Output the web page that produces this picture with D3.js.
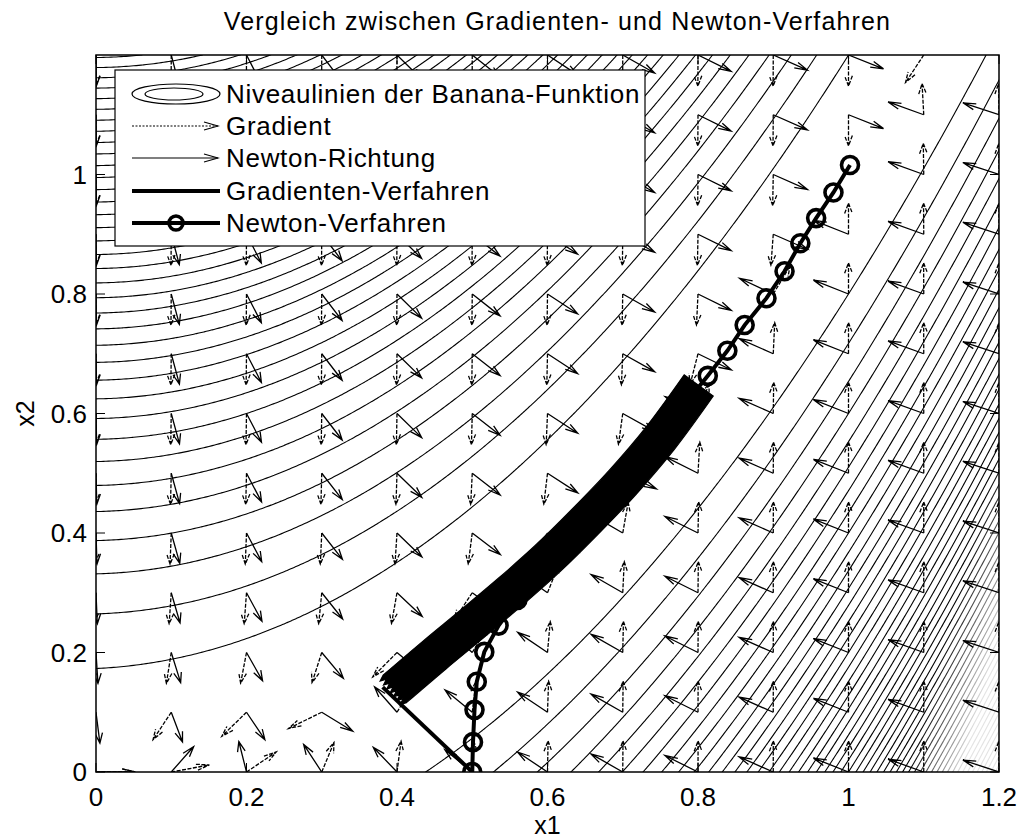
<!DOCTYPE html>
<html>
<head>
<meta charset="utf-8">
<script src="https://cdn.jsdelivr.net/npm/d3@7"></script>
<style>
  body { margin: 0; background: #fff; }
  text { font-family: "Liberation Sans", Arial, Helvetica, sans-serif; fill: #000; }
</style>
</head>
<body>
<svg id="chart" width="1023" height="839"></svg>
<script>
// ---- axis ticks ----
const xTicks = [0, 0.2, 0.4, 0.6, 0.8, 1, 1.2];
const yTicks = [0, 0.2, 0.4, 0.6, 0.8, 1];

// ---- contour levels of the banana function ----
const contourLevels = [4, 8, 12, 16, 20, 24, 28, 32, 36, 40, 44, 48, 52, 56, 60, 64, 68, 72, 76, 80,
  84, 88, 92, 96, 100, 104, 108, 112, 116, 120, 124, 128, 132, 136, 140, 144, 148, 152, 156, 160,
  164, 168, 172, 176, 180, 184, 188, 192, 196, 200, 204, 208];

// ---- quiver grid ----
const gridX1 = [0, 0.1, 0.2, 0.3, 0.4, 0.5, 0.6, 0.7, 0.8, 0.9, 1.0, 1.1, 1.2];
const gridX2 = [0, 0.1, 0.2, 0.3, 0.4, 0.5, 0.6, 0.7, 0.8, 0.9, 1.0, 1.1, 1.2];

// ---- Newton iterates ----
const newtonX1 = [0.500, 0.501, 0.503, 0.506, 0.516, 0.535, 0.560, 0.588, 0.617, 0.646, 0.675, 0.703,
  0.731, 0.758, 0.786, 0.813, 0.839, 0.862, 0.891, 0.915, 0.936, 0.957, 0.980, 1.002];
const newtonX2 = [0.000, 0.050, 0.104, 0.151, 0.201, 0.245, 0.288, 0.330, 0.373, 0.415, 0.456, 0.497,
  0.538, 0.579, 0.621, 0.663, 0.705, 0.748, 0.793, 0.838, 0.885, 0.927, 0.970, 1.016];

// ---- gradient method: first step, then the dense zig-zag along the valley ----
const gradStepX1 = [0.500, 0.381];
const gradStepX2 = [0.000, 0.142];
const bandCenterX1 = [0.397, 0.450, 0.500, 0.550, 0.600, 0.650, 0.700, 0.750, 0.801];
const bandCenterX2 = [0.139, 0.196, 0.248, 0.301, 0.357, 0.419, 0.485, 0.559, 0.647];
const bandWidthPx = 36;

const titleText = "Vergleich zwischen Gradienten- und Newton-Verfahren";
const legendLabels = ["Niveaulinien der Banana-Funktion", "Gradient", "Newton-Richtung",
  "Gradienten-Verfahren", "Newton-Verfahren"];

// ---- banana (Rosenbrock) function, its gradient and Hessian ----
const banana = (a, b) => 100 * (b - a * a) ** 2 + (1 - a) ** 2;
const bananaGrad = (a, b) => [-400 * a * (b - a * a) - 2 * (1 - a), 200 * (b - a * a)];
const bananaHess = (a, b) => [[1200 * a * a - 400 * b + 2, -400 * a], [-400 * a, 200]];

// ---- layout ----
const plot = { left: 96, right: 999, top: 55, bottom: 772 };
const svg = d3.select("#chart");

const x = d3.scaleLinear().domain([0, 1.2]).range([plot.left, plot.right]);
const y = d3.scaleLinear().domain([0, 1.2]).range([plot.bottom, plot.top]);

const defs = svg.append("defs");
defs.append("clipPath").attr("id", "plotClip")
  .append("rect").attr("x", plot.left).attr("y", plot.top)
  .attr("width", plot.right - plot.left).attr("height", plot.bottom - plot.top);

// the very dense level lines in the lower right corner print only faintly
const fade = defs.append("linearGradient").attr("id", "denseFade")
  .attr("gradientUnits", "userSpaceOnUse")
  .attr("x1", 942).attr("y1", 650).attr("x2", 992).attr("y2", 664);
fade.append("stop").attr("offset", 0).attr("stop-color", "#fff");
fade.append("stop").attr("offset", 1).attr("stop-color", "#1c1c1c");
defs.append("mask").attr("id", "contourMask").attr("maskUnits", "userSpaceOnUse")
  .attr("x", 0).attr("y", 0).attr("width", 1023).attr("height", 839)
  .append("rect").attr("x", 0).attr("y", 0).attr("width", 1023).attr("height", 839)
  .attr("fill", "url(#denseFade)");

const gPlot = svg.append("g").attr("clip-path", "url(#plotClip)");

// ---- contour lines ----
const N = 361;
const step = 1.2 / (N - 1);
const values = new Float64Array(N * N);
for (let j = 0; j < N; j++) {
  for (let i = 0; i < N; i++) values[j * N + i] = banana(i * step, j * step);
}
const contourGen = d3.contours().size([N, N]).thresholds(contourLevels);
const contourPath = d3.geoPath(d3.geoTransform({
  point: function (px, py) { this.stream.point(x((px - 0.5) * step), y((py - 0.5) * step)); }
}));
gPlot.append("g").attr("mask", "url(#contourMask)").selectAll("path")
  .data(contourGen(values))
  .join("path")
  .attr("d", contourPath)
  .attr("fill", "none")
  .attr("stroke", "#000")
  .attr("stroke-width", 1.1);

// ---- quiver arrows (MATLAB-like heads) ----
const arrowLen = 0.052, alpha = 0.33, beta = 0.3;
function arrowPath(a, b, u, v) {
  const tx = a + u, ty = b + v;
  const h1 = [tx - alpha * (u + beta * v), ty - alpha * (v - beta * u)];
  const h2 = [tx - alpha * (u - beta * v), ty - alpha * (v + beta * u)];
  return `M${x(a)},${y(b)}L${x(tx)},${y(ty)}M${x(h1[0])},${y(h1[1])}L${x(tx)},${y(ty)}L${x(h2[0])},${y(h2[1])}`;
}
const gradArrows = [], newtonArrows = [];
gridX2.forEach(b => gridX1.forEach(a => {
  const g = bananaGrad(a, b);
  const gn = Math.hypot(g[0], g[1]);
  if (gn < 1e-9) return;
  gradArrows.push(arrowPath(a, b, -g[0] / gn * arrowLen, -g[1] / gn * arrowLen));
  const Hs = bananaHess(a, b);
  const det = Hs[0][0] * Hs[1][1] - Hs[0][1] * Hs[1][0];
  const d0 = -(Hs[1][1] * g[0] - Hs[0][1] * g[1]) / det;
  const d1 = -(-Hs[1][0] * g[0] + Hs[0][0] * g[1]) / det;
  const dn = Math.hypot(d0, d1);
  newtonArrows.push(arrowPath(a, b, d0 / dn * arrowLen, d1 / dn * arrowLen));
}));
gPlot.append("g").selectAll("path").data(gradArrows).join("path")
  .attr("d", d => d).attr("fill", "none").attr("stroke", "#000").attr("stroke-width", 1.3);
gPlot.append("g").selectAll("path").data(newtonArrows).join("path")
  .attr("d", d => d).attr("fill", "none").attr("stroke", "#000").attr("stroke-width", 1.3)
  .attr("stroke-dasharray", "4,1.5");

// ---- Newton path ----
const newtonPts = newtonX1.map((a, i) => [a, newtonX2[i]]);
const lineGen = d3.line().x(d => x(d[0])).y(d => y(d[1]));
gPlot.append("path").datum(newtonPts).attr("d", lineGen)
  .attr("fill", "none").attr("stroke", "#000").attr("stroke-width", 4);
gPlot.append("g").selectAll("circle").data(newtonPts).join("circle")
  .attr("cx", d => x(d[0])).attr("cy", d => y(d[1])).attr("r", 8.5)
  .attr("fill", "none").attr("stroke", "#000").attr("stroke-width", 3.6);

// ---- gradient path ----
const gradStep = gradStepX1.map((a, i) => [a, gradStepX2[i]]);
gPlot.append("path").datum(gradStep).attr("d", lineGen)
  .attr("fill", "none").attr("stroke", "#000").attr("stroke-width", 4);

// the zig-zag iterates fill a band around the centre line; its edges are the turning points
const cpx = bandCenterX1.map((a, i) => [x(a), y(bandCenterX2[i])]);
const hw = bandWidthPx / 2;
const normals = cpx.map((p, i) => {
  const a = cpx[Math.max(0, i - 1)], b = cpx[Math.min(cpx.length - 1, i + 1)];
  const dx = b[0] - a[0], dy = b[1] - a[1], len = Math.hypot(dx, dy);
  return { t: [dx / len, dy / len], n: [dy / len, -dx / len] };
});
const upperEdge = cpx.map((p, i) => [p[0] + normals[i].n[0] * hw, p[1] + normals[i].n[1] * hw]);
const lowerEdge = cpx.map((p, i) => [p[0] - normals[i].n[0] * hw, p[1] - normals[i].n[1] * hw]);
const edgeLine = d3.line().curve(d3.curveCatmullRom.alpha(0.5));
// jagged start: the first turning points stick out beyond the band
const t0 = normals[0].t, L0 = lowerEdge[0], U0 = upperEdge[0];
const teeth = [];
const nTeeth = 7;
for (let k = 1; k < 2 * nTeeth; k++) {
  const f = k / (2 * nTeeth);
  const out = (k % 2 === 1) ? 6 : 0;
  teeth.push([L0[0] + (U0[0] - L0[0]) * f - t0[0] * out, L0[1] + (U0[1] - L0[1]) * f - t0[1] * out]);
}
const bandD = edgeLine(upperEdge) + "L" + edgeLine(lowerEdge.slice().reverse()).slice(1) +
  teeth.map(p => `L${p[0]},${p[1]}`).join("") + "Z";
gPlot.append("path").attr("d", bandD)
  .attr("fill", "#000").attr("stroke", "#000").attr("stroke-width", 1.2);

// ---- axes frame and ticks ----
const frame = svg.append("g");
frame.append("rect").attr("x", plot.left).attr("y", plot.top)
  .attr("width", plot.right - plot.left).attr("height", plot.bottom - plot.top)
  .attr("fill", "none").attr("stroke", "#000").attr("stroke-width", 1.5);
const tickLen = 9;
xTicks.forEach(t => {
  frame.append("line").attr("x1", x(t)).attr("x2", x(t)).attr("y1", plot.bottom).attr("y2", plot.bottom - tickLen).attr("stroke", "#000");
  frame.append("line").attr("x1", x(t)).attr("x2", x(t)).attr("y1", plot.top).attr("y2", plot.top + tickLen).attr("stroke", "#000");
  frame.append("text").attr("x", x(t)).attr("y", 806).attr("text-anchor", "middle")
    .style("font-size", "26px").text(d3.format("~g")(t));
});
yTicks.forEach(t => {
  frame.append("line").attr("x1", plot.left).attr("x2", plot.left + tickLen).attr("y1", y(t)).attr("y2", y(t)).attr("stroke", "#000");
  frame.append("line").attr("x1", plot.right).attr("x2", plot.right - tickLen).attr("y1", y(t)).attr("y2", y(t)).attr("stroke", "#000");
  frame.append("text").attr("x", 87).attr("y", y(t) + 9).attr("text-anchor", "end")
    .style("font-size", "26px").text(d3.format("~g")(t));
});

// ---- labels ----
svg.append("text").attr("x", (plot.left + plot.right) / 2 + 10).attr("y", 30).attr("text-anchor", "middle")
  .style("font-size", "25px").style("letter-spacing", "1.15px").text(titleText);
svg.append("text").attr("x", (plot.left + plot.right) / 2).attr("y", 834).attr("text-anchor", "middle")
  .style("font-size", "25px").text("x1");
svg.append("text").attr("transform", `translate(34,${(plot.top + plot.bottom) / 2}) rotate(-90)`)
  .attr("text-anchor", "middle").style("font-size", "25px").text("x2");

// ---- legend ----
const lg = svg.append("g");
lg.append("rect").attr("x", 115).attr("y", 70).attr("width", 530).attr("height", 176)
  .attr("fill", "#fff").attr("stroke", "#000").attr("stroke-width", 1.2);
const rowY = [94, 126, 158, 191, 223];
const sx0 = 132, sx1 = 220;
legendLabels.forEach((t, i) => {
  lg.append("text").attr("x", 226).attr("y", rowY[i] + 9).style("font-size", "26px")
    .style("letter-spacing", "0.7px").text(t);
});
lg.append("ellipse").attr("cx", 176).attr("cy", rowY[0]).attr("rx", 44).attr("ry", 10)
  .attr("fill", "none").attr("stroke", "#000").attr("stroke-width", 1.2);
lg.append("ellipse").attr("cx", 174).attr("cy", rowY[0]).attr("rx", 29).attr("ry", 6)
  .attr("fill", "none").attr("stroke", "#000").attr("stroke-width", 1.2);
function legendArrow(yy, dash) {
  lg.append("line").attr("x1", sx0).attr("x2", sx1 - 2).attr("y1", yy).attr("y2", yy)
    .attr("stroke", "#000").attr("stroke-width", 1.1).attr("stroke-dasharray", dash);
  lg.append("path").attr("d", `M${sx1 - 16},${yy - 4}L${sx1 - 2},${yy}L${sx1 - 16},${yy + 4}`)
    .attr("fill", "none").attr("stroke", "#000").attr("stroke-width", 1.1);
}
legendArrow(rowY[1], "2,1.5");
legendArrow(rowY[2], null);
lg.append("line").attr("x1", sx0).attr("x2", sx1).attr("y1", rowY[3]).attr("y2", rowY[3])
  .attr("stroke", "#000").attr("stroke-width", 4);
lg.append("line").attr("x1", sx0).attr("x2", sx1).attr("y1", rowY[4]).attr("y2", rowY[4])
  .attr("stroke", "#000").attr("stroke-width", 4);
lg.append("circle").attr("cx", (sx0 + sx1) / 2).attr("cy", rowY[4]).attr("r", 7)
  .attr("fill", "none").attr("stroke", "#000").attr("stroke-width", 3.5);
</script>
</body>
</html>
